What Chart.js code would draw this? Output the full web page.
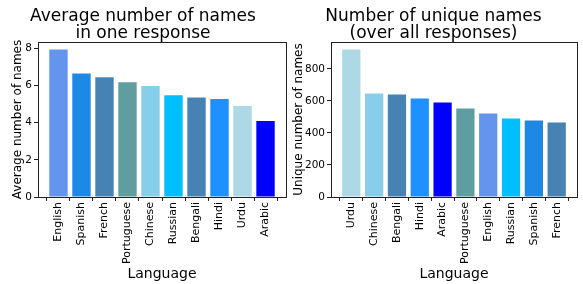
<!DOCTYPE html>
<html>
<head>
<meta charset="utf-8">
<script src="https://cdn.jsdelivr.net/npm/chart.js@4.4.1/dist/chart.umd.min.js"></script>
<style>
  html, body { margin: 0; padding: 0; background: #fff; }
  #wrap { position: relative; width: 583px; height: 284px; overflow: hidden; }
  canvas { position: absolute; top: 0; }
  #left { left: 0; }
  #right { left: 290px; }
</style>
</head>
<body>
<div id="wrap">
  <canvas id="left" width="290" height="284"></canvas>
  <canvas id="right" width="293" height="284"></canvas>
</div>
<script>
// datos
const avgLanguages = ['English', 'Spanish', 'French', 'Portuguese', 'Chinese', 'Russian', 'Bengali', 'Hindi', 'Urdu', 'Arabic'];
const avgValues = [7.93, 6.64, 6.43, 6.17, 5.96, 5.46, 5.35, 5.26, 4.89, 4.08];
const avgTicks = [0, 2, 4, 6, 8];

const uniqueLanguages = ['Urdu', 'Chinese', 'Bengali', 'Hindi', 'Arabic', 'Portuguese', 'English', 'Russian', 'Spanish', 'French'];
const uniqueValues = [921, 646, 640, 615, 590, 552, 521, 490, 477, 465];
const uniqueTicks = [0, 200, 400, 600, 800];

// color por idioma
const langColors = {
    English: '#6495ED', Spanish: '#1E88E5', French: '#4682B4', Portuguese: '#5F9EA0',
    Chinese: '#87CEEB', Russian: '#00BFFF', Bengali: '#4682B4', Hindi: '#1E90FF',
    Urdu: '#ADD8E6', Arabic: '#0000FF'
};

const FONT = "'DejaVu Sans', sans-serif";

// marco completo alrededor del area (como matplotlib)
const boxPlugin = {
    id: 'box',
    afterDraw(chart) {
        const { ctx, chartArea: a } = chart;
        ctx.save();
        ctx.strokeStyle = '#222';
        ctx.lineWidth = 1;
        ctx.strokeRect(Math.round(a.left) + 0.5, Math.round(a.top) + 0.5,
            Math.round(a.right - a.left), Math.round(a.bottom - a.top));
        ctx.restore();
    }
};

function makeChart(id, title, yTitle, labels, values, ticks, yPad, rightPad, yWidth) {
    const yMax = Math.max(...values) * 1.05;
    // margen de 5% como matplotlib: barras de -0.4 a n-0.6
    const span = (labels.length - 1) + 0.8;
    const xMin = -0.4 - span * 0.05;
    const xMax = labels.length - 0.6 + span * 0.05;
    return new Chart(document.getElementById(id), {
        type: 'bar',
        data: {
            datasets: [{
                data: values.map((v, i) => ({ x: i, y: v })),
                backgroundColor: labels.map(l => langColors[l]),
                borderWidth: 0,
                barPercentage: 0.8,
                categoryPercentage: 1.0
            }]
        },
        options: {
            responsive: false,
            animation: false,
            devicePixelRatio: 1,
            layout: { padding: { left: 0, right: rightPad, top: 0, bottom: 0 } },
            plugins: {
                legend: { display: false },
                tooltip: { enabled: false },
                title: {
                    display: true,
                    text: title,
                    color: '#000',
                    font: { family: FONT, size: 17, weight: 'normal', lineHeight: 1.0 },
                    padding: { top: 8, bottom: 0 }
                }
            },
            scales: {
                x: {
                    type: 'linear',
                    min: xMin,
                    max: xMax,
                    offset: false,
                    border: { display: false },
                    grid: { display: true, drawOnChartArea: false, drawTicks: true, tickLength: 4, color: '#222' },
                    afterBuildTicks(scale) { scale.ticks = labels.map((l, i) => ({ value: i })); },
                    ticks: {
                        color: '#000', font: { family: FONT, size: 11 },
                        minRotation: 90, maxRotation: 90, autoSkip: false, padding: 1,
                        callback: (v) => labels[v]
                    },
                    title: {
                        display: true, text: 'Language', color: '#000',
                        font: { family: FONT, size: 14 }, padding: { top: 0, bottom: 1.6 }
                    },
                    afterFit(scale) { scale.height = 87; }
                },
                y: {
                    min: 0,
                    max: yMax,
                    border: { display: false },
                    grid: { display: true, drawOnChartArea: false, drawTicks: true, tickLength: 4, color: '#222' },
                    afterBuildTicks(scale) { scale.ticks = ticks.map(v => ({ value: v })); },
                    ticks: {
                        color: '#000', font: { family: FONT, size: 10.5 }, padding: 2
                    },
                    title: {
                        display: true, text: yTitle, color: '#000',
                        font: { family: FONT, size: 12 }, padding: { top: yPad, bottom: 0 }
                    },
                    afterFit(scale) { scale.width = yWidth; }
                }
            }
        },
        plugins: [boxPlugin]
    });
}

makeChart('left', ['Average number of names', 'in one response'], 'Average number of names',
    avgLanguages, avgValues, avgTicks, 10.3, 4, 38);
makeChart('right', ['Number of unique names', '(over all responses)'], 'Unique number of names',
    uniqueLanguages, uniqueValues, uniqueTicks, 1.8, 6, 41);
</script>
</body>
</html>
